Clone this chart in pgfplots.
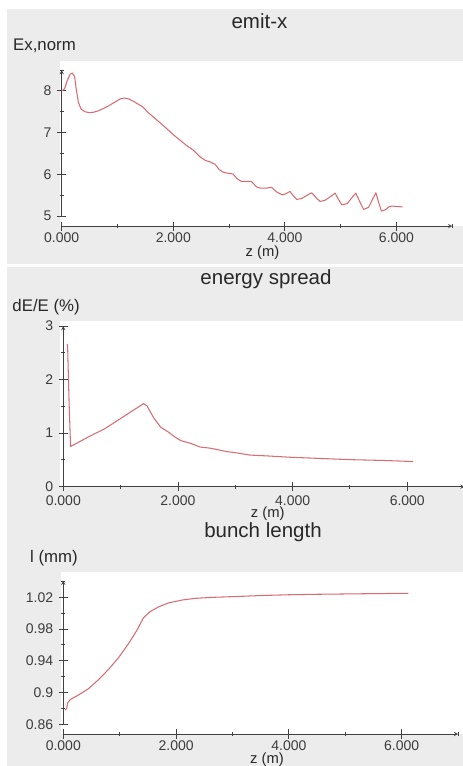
\documentclass[border=0pt]{standalone}
\usepackage{pgfplots}
\pgfplotsset{compat=1.18}
\usepackage{fontspec}
\setmainfont{Liberation Sans}
\definecolor{bggray}{RGB}{236,236,236}
\definecolor{curvecol}{RGB}{216,108,114}
\definecolor{axcol}{RGB}{65,65,65}
\definecolor{txt}{RGB}{40,40,40}
\definecolor{ticktxt}{RGB}{60,60,60}
\pgfplotsset{
 myaxis/.style={
  scale only axis, anchor=south west,
  axis x line=bottom, axis y line=left,
  axis line style={axcol, line width=0.9bp},
  xmin=0, xmax=7,
  xtick={0,2,4,6}, xticklabels={0.000,2.000,4.000,6.000},
  minor xtick={1,3,5,7},
  tick align=center,
  major tick length=9bp, minor tick length=4bp,
  tick style={axcol, line width=0.9bp},
  minor tick style={axcol, line width=0.9bp},
  /pgf/number format/assume math mode=true,
  ticklabel style={font=\fontsize{14bp}{16bp}\selectfont, text=ticktxt, inner sep=0pt},
  xticklabel style={anchor=base, yshift=-12.3bp},
  yticklabel style={anchor=east, xshift=-5.5bp},
  clip=false,
 },
 mycurve/.style={color=curvecol, line width=1.05bp, no marks, line join=round},
}
\begin{document}
\begin{tikzpicture}
\useasboundingbox (0,0) rectangle (463bp,766bp);
% backgrounds
\fill[bggray] (7bp,502bp) rectangle (463bp,757bp);
\fill[bggray] (7bp,0bp) rectangle (463bp,499bp);
\fill[white] (60bp,540bp) rectangle (463bp,705bp);
\fill[white] (60bp,279.3bp) rectangle (463bp,445bp);
\fill[white] (61bp,32bp) rectangle (463bp,194bp);
% texts
\begin{scope}[every node/.style={inner sep=0pt, text=txt}]
\node[font=\fontsize{20.5bp}{24bp}\selectfont] at (259.5bp,745bp) {emit-x};
\node[font=\fontsize{16.8bp}{20bp}\selectfont, anchor=west] at (13bp,720.3bp) {Ex,norm};
\node[font=\fontsize{14.8bp}{18bp}\selectfont] at (262.5bp,513bp) {z (m)};
\node[font=\fontsize{20.5bp}{24bp}\selectfont] at (266bp,486.7bp) {energy spread};
\node[font=\fontsize{16.8bp}{20bp}\selectfont, anchor=west] at (12.3bp,459.3bp) {dE/E (\%)};
\node[font=\fontsize{14.8bp}{18bp}\selectfont] at (267.8bp,252.3bp) {z (m)};
\node[font=\fontsize{20.5bp}{24bp}\selectfont] at (263bp,233.8bp) {bunch length};
\node[font=\fontsize{16.8bp}{20bp}\selectfont, anchor=west] at (30bp,208.3bp) {l (mm)};
\node[font=\fontsize{14.8bp}{18bp}\selectfont] at (267bp,6.5bp) {z (m)};
\end{scope}
% panel 1
\begin{axis}[myaxis, at={(61.7bp,539.9bp)}, width=390.6bp, height=156bp,
  ymin=4.76, ymax=8.5, ytick={5,6,7,8}, minor ytick={5.5,6.5,7.5,8.5},
  y axis line style={shorten <=10bp}]
\addplot[mycurve] coordinates {
(0.0,8.00) (0.05,8.05) (0.10,8.25) (0.15,8.40) (0.19,8.43) (0.23,8.35) (0.26,8.05)
(0.30,7.72) (0.35,7.56) (0.42,7.50) (0.50,7.48) (0.57,7.49) (0.65,7.52) (0.75,7.58)
(0.85,7.65) (0.95,7.73) (1.05,7.81) (1.12,7.83) (1.20,7.81) (1.30,7.74) (1.40,7.66)
(1.46,7.61) (1.55,7.48) (1.64,7.38) (1.76,7.24) (1.88,7.10) (2.00,6.95) (2.12,6.82)
(2.24,6.69) (2.36,6.58) (2.48,6.42) (2.58,6.33) (2.66,6.30) (2.75,6.24) (2.82,6.12)
(2.88,6.06) (2.96,6.03) (3.07,6.01) (3.14,5.90) (3.22,5.83) (3.30,5.83) (3.40,5.83)
(3.49,5.70) (3.56,5.67) (3.66,5.67) (3.76,5.69) (3.85,5.58) (3.95,5.51) (4.01,5.53)
(4.09,5.59) (4.15,5.49) (4.21,5.40) (4.30,5.42) (4.40,5.50) (4.48,5.56) (4.56,5.44)
(4.63,5.35) (4.72,5.38) (4.82,5.47) (4.90,5.55) (4.96,5.40) (5.02,5.27) (5.12,5.30)
(5.20,5.44) (5.27,5.55) (5.34,5.35) (5.41,5.16) (5.50,5.21) (5.57,5.40) (5.63,5.56)
(5.68,5.33) (5.73,5.12) (5.80,5.15) (5.86,5.22) (5.92,5.24) (6.00,5.23) (6.11,5.22)
};
\end{axis}
% panel 2
\begin{axis}[myaxis, at={(63.3bp,279.3bp)}, width=401.3bp, height=160.7bp,
  ymin=0, ymax=3, ytick={0,1,2,3}, minor ytick={0.5,1.5,2.5},
  xticklabel style={yshift=-1.8bp}]
\addplot[mycurve] coordinates {
(0.065,2.66) (0.075,2.64) (0.10,1.60) (0.127,0.75) (0.43,0.925) (0.72,1.08)
(1.01,1.28) (1.24,1.44) (1.40,1.55) (1.46,1.51) (1.58,1.28) (1.70,1.11) (1.82,1.03)
(1.93,0.94) (2.05,0.86) (2.22,0.81) (2.39,0.74) (2.56,0.72) (2.70,0.69) (2.85,0.655)
(2.97,0.64) (3.26,0.59) (3.55,0.575) (3.95,0.55) (4.42,0.53) (5.00,0.505) (5.58,0.49)
(6.10,0.47)
};
\end{axis}
% panel 3
\begin{axis}[myaxis, at={(63.3bp,32bp)}, width=394.8bp, height=153.3bp,
  ymin=0.8478, ymax=1.0409, ytick={0.86,0.9,0.94,0.98,1.02},
  yticklabels={0.86,0.9,0.94,0.98,1.02}, minor ytick={0.88,0.92,0.96,1.0,1.04},
  y axis line style={shorten <=9.7bp}]
\addplot[mycurve] coordinates {
(0.03,0.878) (0.06,0.880) (0.077,0.887) (0.12,0.891) (0.27,0.897) (0.45,0.905)
(0.62,0.916) (0.80,0.929) (0.98,0.944) (1.16,0.962) (1.31,0.979) (1.42,0.994)
(1.54,1.002) (1.69,1.008) (1.87,1.013) (2.11,1.0166) (2.34,1.0187) (2.67,1.020)
(3.0,1.0208) (3.5,1.0222) (4.0,1.0232) (4.5,1.0238) (5.0,1.0242) (5.5,1.0246) (6.12,1.025)
};
\end{axis}
\end{tikzpicture}
\end{document}
